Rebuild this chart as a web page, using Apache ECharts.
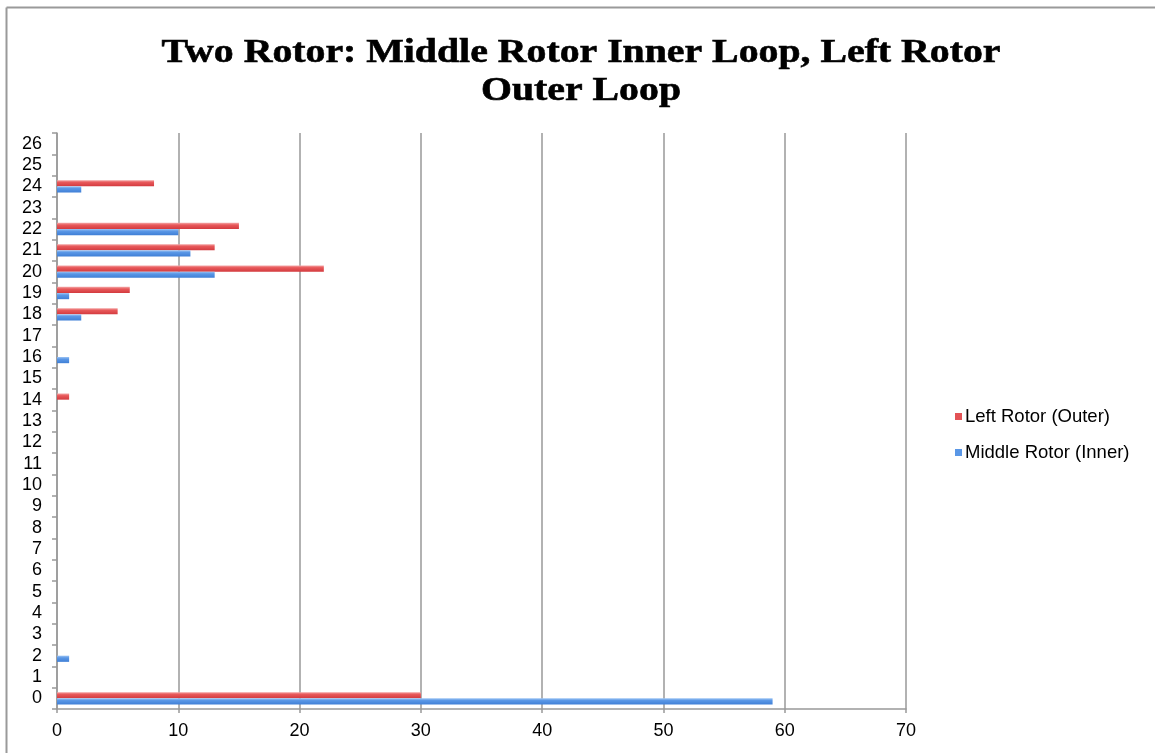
<!DOCTYPE html>
<html>
<head>
<meta charset="utf-8">
<script src="https://cdn.jsdelivr.net/npm/echarts@6/dist/echarts.min.js"></script>
<style>
  html, body { margin: 0; padding: 0; background: #fff; }
  #chart { width: 1155px; height: 753px; }
</style>
</head>
<body>
<div id="chart"></div>
<script>
// Loop counts per rotor position
const categories = ['0','1','2','3','4','5','6','7','8','9','10','11','12','13','14','15','16','17','18','19','20','21','22','23','24','25','26'];
const leftOuter   = [30, 0, 0, 0, 0, 0, 0, 0, 0, 0, 0, 0, 0, 0, 1, 0, 0, 0, 5, 6, 22, 13, 15, 0, 8, 0, 0];
const middleInner = [59, 0, 1, 0, 0, 0, 0, 0, 0, 0, 0, 0, 0, 0, 0, 0, 1, 0, 2, 1, 13, 11, 10, 0, 2, 0, 0];
const xTicks = [0, 10, 20, 30, 40, 50, 60, 70];

const seriesNames = ['Left Rotor (Outer)', 'Middle Rotor (Inner)'];
const titleText = 'Two Rotor: Middle Rotor Inner Loop, Left Rotor\nOuter Loop';

const redFill = new echarts.graphic.LinearGradient(0, 0, 0, 1, [
  { offset: 0, color: '#f4a6a6' },
  { offset: 0.35, color: '#e8595b' },
  { offset: 1, color: '#d33a3e' }
]);
const blueFill = new echarts.graphic.LinearGradient(0, 0, 0, 1, [
  { offset: 0, color: '#9cc4f4' },
  { offset: 0.35, color: '#5a97e6' },
  { offset: 1, color: '#3f7fd6' }
]);

const chart = echarts.init(document.getElementById('chart'), null, { renderer: 'canvas' });

chart.setOption({
  backgroundColor: '#ffffff',
  animation: false,
  graphic: [
    // frame lines along the top and left edges
    { type: 'line', shape: { x1: 6.5, y1: 7.5, x2: 1155, y2: 7.5 }, style: { stroke: '#9a9a9a', lineWidth: 2 } },
    { type: 'line', shape: { x1: 6.5, y1: 7.5, x2: 6.5, y2: 753 }, style: { stroke: '#9a9a9a', lineWidth: 2 } },
    {
      type: 'text', x: 581, y: 34, scaleX: 1.17, scaleY: 1,
      style: {
        text: titleText,
        font: 'bold 34px "Liberation Serif", serif',
        fill: '#000', stroke: '#000', lineWidth: 0.6,
        align: 'center', verticalAlign: 'top', lineHeight: 38
      }
    }
  ],
  legend: {
    orient: 'vertical',
    left: 950, top: 402,
    itemWidth: 7, itemHeight: 7, itemGap: 17,
    icon: 'rect',
    data: [
      { name: seriesNames[0], itemStyle: { color: '#e35356' } },
      { name: seriesNames[1], itemStyle: { color: '#5a97e6' } }
    ],
    textStyle: { fontFamily: '"Liberation Sans", Arial, sans-serif', fontSize: 18.5, color: '#000', lineHeight: 19, padding: [0, 0, 0, -2] }
  },
  grid: { left: 57, top: 133, right: 249, bottom: 44, containLabel: false },
  xAxis: {
    type: 'value',
    min: xTicks[0], max: xTicks[xTicks.length - 1], interval: 10,
    axisLine: { show: true, lineStyle: { color: '#999', width: 1.5 } },
    axisTick: { show: true, length: 4, lineStyle: { color: '#999', width: 1.5 } },
    axisLabel: { color: '#000', fontSize: 18, fontFamily: '"Liberation Sans", Arial, sans-serif', margin: 13 },
    splitLine: { show: true, lineStyle: { color: '#999', width: 1.5 } }
  },
  yAxis: {
    type: 'category',
    data: categories,
    axisLine: { show: true, onZero: false, lineStyle: { color: '#999', width: 1.5 } },
    axisTick: { show: true, length: 5, inside: false, lineStyle: { color: '#999', width: 1.5 } },
    axisLabel: { color: '#000', fontSize: 18, fontFamily: '"Liberation Sans", Arial, sans-serif', margin: 15, interval: 0 },
    splitLine: { show: false }
  },
  series: [
    {
      name: seriesNames[0], type: 'bar', data: leftOuter,
      barGap: '0%', barCategoryGap: '42%',
      itemStyle: { color: redFill }
    },
    {
      name: seriesNames[1], type: 'bar', data: middleInner,
      barGap: '0%', barCategoryGap: '42%',
      itemStyle: { color: blueFill }
    }
  ]
});
</script>
</body>
</html>
